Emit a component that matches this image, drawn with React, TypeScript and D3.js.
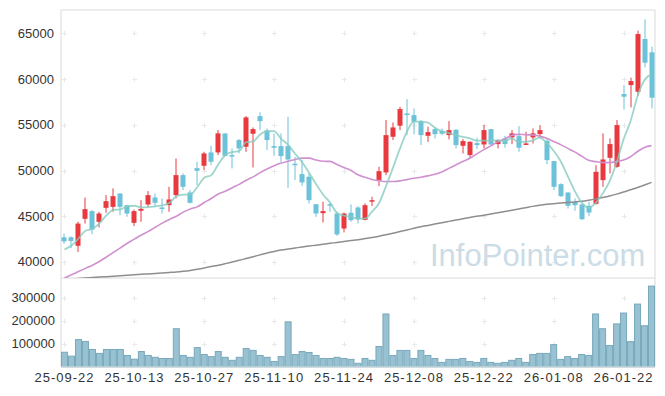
import React, { useEffect } from "react";
import * as d3 from "d3";

const dates = [
  "25-09-22","25-09-23","25-09-24","25-09-25","25-09-26","25-09-29","25-09-30",
  "25-10-01","25-10-02","25-10-10","25-10-13","25-10-14","25-10-15","25-10-16","25-10-17",
  "25-10-20","25-10-21","25-10-22","25-10-23","25-10-24","25-10-27","25-10-28","25-10-29","25-10-30","25-10-31",
  "25-11-03","25-11-04","25-11-05","25-11-06","25-11-07","25-11-10","25-11-11","25-11-12","25-11-13","25-11-14",
  "25-11-17","25-11-18","25-11-19","25-11-20","25-11-21","25-11-24","25-11-25","25-11-26","25-11-27","25-11-28",
  "25-12-01","25-12-02","25-12-03","25-12-04","25-12-05","25-12-08","25-12-09","25-12-10","25-12-11","25-12-12",
  "25-12-15","25-12-16","25-12-17","25-12-18","25-12-19","25-12-22","25-12-23","25-12-24","25-12-26","25-12-29","25-12-30",
  "26-01-02","26-01-05","26-01-06","26-01-07","26-01-08","26-01-09","26-01-12","26-01-13","26-01-14","26-01-15","26-01-16",
  "26-01-19","26-01-20","26-01-21","26-01-22","26-01-23","26-01-26","26-01-27","26-01-28",
];

const opens = [
  42700, 42700, 41770, 44720, 45560, 44390, 45920, 46030, 47490, 46210,
  44280, 45600, 46290, 47050, 45960, 46215, 47310, 49500, 47600, 50260,
  50520, 51980, 51980, 54050, 51690, 53330, 52600, 54020, 55950, 54380,
  52670, 52670, 52670, 50740, 49610, 49320, 46320, 45340, 46320, 45300,
  43660, 45380, 45960, 44600, 46620, 48950, 49790, 53690, 54900, 56240,
  56060, 55400, 53800, 54530, 54350, 53870, 54460, 52710, 51690, 53000,
  52850, 54530, 52890, 53500, 53620, 53760, 52820, 53620, 53980, 53250,
  51030, 48510, 47600, 46580, 46290, 46140, 46360, 48950, 51390, 50410,
  58360, 59340, 58610, 64380, 62920,
];
const highs = [
  43100, 42800, 44400, 47050, 45670, 45490, 47310, 48040, 47500, 46250,
  45740, 46760, 47750, 47490, 46950, 48220, 51320, 49680, 47860, 50960,
  52050, 52710, 54420, 54060, 52420, 53440, 55950, 54710, 56350, 54600,
  54060, 54060, 55880, 51500, 51140, 49680, 46320, 46580, 46510, 45490,
  45410, 46290, 46100, 46400, 47130, 50410, 55520, 55260, 56970, 57810,
  56790, 55520, 54790, 54710, 54600, 55400, 54500, 53440, 53200, 53580,
  54970, 54550, 53400, 53800, 54420, 54860, 54240, 54600, 54970, 53510,
  51050, 48600, 47600, 46950, 46300, 46580, 50590, 54060, 53510, 55520,
  59340, 60150, 65290, 66530, 63540,
];
const lows = [
  42000, 41500, 41100, 44200, 43050, 43770, 45380, 45490, 45120, 44940,
  43920, 44390, 46030, 46030, 45300, 45490, 46950, 47860, 46400, 48400,
  50040, 50590, 51690, 51500, 50230, 51870, 52050, 50340, 54420, 52230,
  51610, 50960, 48110, 48950, 48330, 46400, 44940, 44320, 45490, 42860,
  43230, 44390, 44210, 44550, 46110, 48290, 49500, 53330, 54420, 53870,
  53950, 52780, 53140, 53510, 53870, 53400, 52420, 51870, 51390, 52340,
  52420, 52780, 52420, 52500, 52890, 52050, 52800, 52960, 53510, 50700,
  47860, 47100, 45850, 45600, 44570, 45010, 46290, 48220, 49680, 50300,
  56680, 56900, 58140, 61280, 56790,
];
const closes = [
  42250, 42300, 44200, 45780, 43550, 45300, 46650, 47200, 46030, 45300,
  45560, 45810, 47310, 46470, 45800, 46835, 49500, 48220, 46470, 49970,
  51870, 50960, 54060, 51610, 51580, 52420, 55810, 54530, 55400, 53330,
  52490, 51580, 51210, 50590, 48700, 46760, 45300, 45560, 46180, 43010,
  45300, 44570, 44650, 46210, 46760, 49930, 53870, 54710, 56720, 56060,
  55330, 53870, 54200, 53980, 54020, 54420, 52780, 53220, 53140, 52780,
  54420, 52850, 53330, 52890, 54060, 52490, 52960, 54060, 54420, 51140,
  48220, 47200, 46140, 46215, 44680, 45410, 49860, 51210, 52890, 54970,
  58070, 59780, 64920, 61790, 57960,
];
const volumes = [
  64000, 47000, 119000, 111000, 76000, 59000, 76000, 76000, 76000, 50000,
  34000, 67000, 50000, 42000, 37000, 37000, 166000, 50000, 42000, 84000,
  54000, 45000, 67000, 42000, 29000, 42000, 80000, 72000, 50000, 42000,
  24000, 45000, 196000, 54000, 67000, 63000, 50000, 37000, 37000, 42000,
  37000, 33000, 16000, 37000, 29000, 89000, 230000, 50000, 72000, 72000,
  37000, 72000, 50000, 37000, 20000, 33000, 33000, 37000, 24000, 20000,
  37000, 20000, 16000, 20000, 29000, 37000, 20000, 54000, 59000, 59000,
  97000, 33000, 45000, 37000, 54000, 50000, 230000, 166000, 93000, 187000,
  234000, 110000, 273000, 179000, 351000,
];
// closes of the 4 sessions before the window (for the 5-day average)
const prevCloses = [40110, 40375, 41585, 42505];
// 20-day average for the first 19 sessions (earlier history not shown)
const ma20Head = [
  38250, 38600, 38950, 39300, 39650, 40050, 40550, 41050, 41550, 42050,
  42500, 42950, 43350, 43800, 44250, 44650, 45000, 45450, 45800,
];
// long-term (120-day) average
const ma120 = [
  38100, 38150, 38200, 38250, 38300, 38350, 38400, 38450, 38500, 38550,
  38600, 38650, 38700, 38750, 38800, 38850, 38900, 38980, 39080, 39200,
  39350, 39500, 39650, 39820, 40000, 40180, 40380, 40580, 40780, 40980,
  41150, 41300, 41420, 41530, 41640, 41740, 41840, 41940, 42040, 42140,
  42240, 42340, 42440, 42560, 42680, 42820, 42980, 43150, 43330, 43500,
  43680, 43850, 44000, 44150, 44300, 44440, 44580, 44720, 44860, 45000,
  45120, 45250, 45380, 45520, 45660, 45800, 45940, 46080, 46200, 46300,
  46380, 46440, 46500, 46560, 46640, 46760, 46900, 47060, 47220, 47420,
  47650, 47900, 48150, 48420, 48700,
];
const priceTicks = [40000, 45000, 50000, 55000, 60000, 65000];
const volTicks = [100000, 200000, 300000];
const priceDomain = [38250, 67550];
const labelEvery = 10;

const W = 665, H = 396;
const L = 61, R = 655, T = 10, MID = 278, B = 367;

const UP = "#e8393e";
const DOWN = "#6cc2d8";
const FONT = "'Liberation Sans', Arial, sans-serif";

export default function App() {
  useEffect(() => {
    document.body.style.margin = "0";
  }, []);

  const idx = d3.range(dates.length);
  const x = d3.scaleBand<number>().domain(idx).range([L, R]).padding(0);
  const bw = x.bandwidth();
  const cx = (i: number) => (x(i) as number) + bw / 2;
  const y = d3.scaleLinear().domain(priceDomain).range([MID, T]);
  const yv = d3.scaleLinear().domain([0, (d3.max(volumes) as number) * 1.1]).range([B, MID]);

  const all = [...prevCloses, ...closes];
  const ma5 = closes.map((_, i) => d3.mean(all.slice(i, i + 5)) as number);
  const ma20 = closes.map((_, i) => (i < 19 ? ma20Head[i] : (d3.mean(closes.slice(i - 19, i + 1)) as number)));

  const line = d3
    .line<number>()
    .x((_, i) => cx(i))
    .y((v) => y(v))
    .curve(d3.curveMonotoneX);

  const tickIdx = idx.filter((i) => i % labelEvery === 0);
  const grid = "#e9e9e9";

  const cross = (px: number, py: number, k: string) => (
    <g key={k} stroke={grid} strokeWidth={1}>
      <line x1={px - 2.5} x2={px + 2.5} y1={py} y2={py} />
      <line x1={px} x2={px} y1={py - 2.5} y2={py + 2.5} />
    </g>
  );

  return (
    <svg width={W} height={H} style={{ display: "block", background: "#fff" }}>
      <defs>
        <clipPath id="mainClip">
          <rect x={L} y={T} width={R - L} height={MID - T} />
        </clipPath>
      </defs>

      {/* grid crosses */}
      {tickIdx.map((i) =>
        priceTicks.map((p) => cross(Math.round(cx(i)) + 0.5, Math.round(y(p)) + 0.5, `p${i}-${p}`))
      )}
      {tickIdx.map((i) =>
        volTicks.map((v) => cross(Math.round(cx(i)) + 0.5, Math.round(yv(v)) + 0.5, `v${i}-${v}`))
      )}

      {/* frame */}
      <g stroke="#e6e6e6" strokeWidth={1.5} fill="none">
        <line x1={L} x2={R} y1={T} y2={T} />
        <line x1={L} x2={L} y1={T} y2={B} />
        <line x1={R} x2={R} y1={T} y2={B} />
        <line x1={L} x2={R} y1={MID} y2={MID} />
      </g>

      {/* watermark */}
      <text x={430} y={265.5} fontFamily={FONT} fontSize={31} fill="#c3d7e2" opacity={0.85}>
        InfoPointer.com
      </text>

      {/* candles */}
      <g>
        {idx.map((i) => {
          const up = closes[i] >= opens[i];
          const c = up ? UP : DOWN;
          const top = y(Math.max(opens[i], closes[i]));
          const bot = y(Math.min(opens[i], closes[i]));
          const xc = Math.round(cx(i));
          return (
            <g key={i}>
              <line x1={xc} x2={xc} y1={y(highs[i])} y2={y(lows[i])} stroke={c} strokeWidth={1} />
              <rect x={xc - 2.5} y={top} width={5} height={Math.max(1.5, bot - top)} fill={c} />
            </g>
          );
        })}
      </g>

      {/* moving averages */}
      <g clipPath="url(#mainClip)" fill="none">
        <path d={line(ma120) as string} stroke="#8e8e8e" strokeWidth={1.5} />
        <path d={line(ma20) as string} stroke="#cf91cf" strokeWidth={1.6} />
        <path d={line(ma5) as string} stroke="#86ccc0" strokeWidth={1.8} opacity={0.8} />
      </g>

      {/* volume */}
      <g>
        {idx.map((i) => (
          <rect
            key={i}
            x={(x(i) as number) + 0.5}
            y={yv(volumes[i])}
            width={bw - 1}
            height={B - yv(volumes[i])}
            fill="#98c1d1"
            stroke="#78a8bb"
            strokeWidth={1}
          />
        ))}
      </g>
      <line x1={L} x2={R} y1={B} y2={B} stroke="#e6e6e6" strokeWidth={1} />

      {/* y labels */}
      <g fontFamily={FONT} fontSize={13} fill="#333" textAnchor="end">
        {priceTicks.map((p) => (
          <text key={p} x={54} y={y(p)} dominantBaseline="central">
            {p}
          </text>
        ))}
        {volTicks.map((v) => (
          <text key={v} x={55} y={yv(v)} dominantBaseline="central">
            {v}
          </text>
        ))}
      </g>

      {/* x labels */}
      <g fontFamily={FONT} fontSize={13} fill="#333" textAnchor="middle">
        {tickIdx.map((i) => (
          <text key={i} x={cx(i) - 0.5} y={381.5} textLength={59} lengthAdjust="spacing">
            {dates[i]}
          </text>
        ))}
      </g>
    </svg>
  );
}
